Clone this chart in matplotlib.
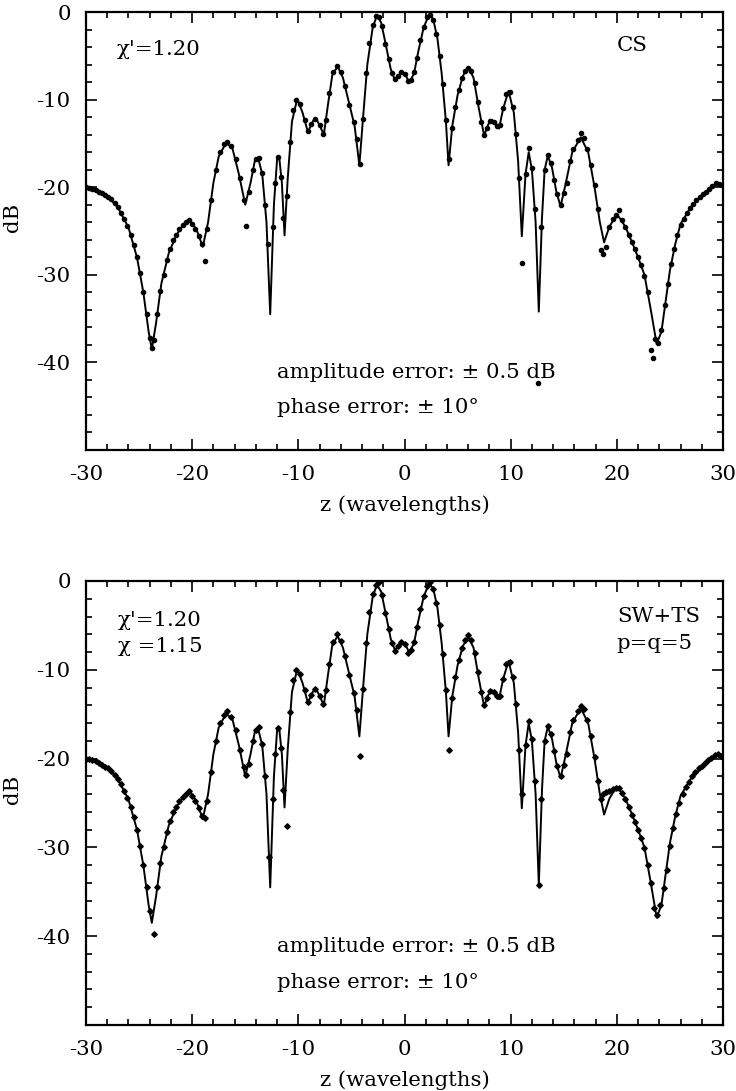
import matplotlib
matplotlib.use("Agg")
import matplotlib.pyplot as plt
from matplotlib.ticker import MultipleLocator

plt.rcParams['font.family'] = ['DejaVu Serif']
plt.rcParams['mathtext.fontset'] = 'dejavuserif'
plt.rcParams['axes.unicode_minus'] = False

# ---- exact pattern (solid line), shared by both panels ----
line_z = [-30.0, -29.0, -28.0, -27.0, -26.0, -25.2, -24.6, -24.1, -23.8, -23.4,
          -22.9, -22.2, -21.5, -20.8, -20.2, -19.6, -19.0, -18.5, -18.0, -17.5,
          -16.8, -16.2, -15.6, -15.0, -14.5, -14.1, -13.8, -13.4, -13.0, -12.65,
          -12.3, -12.0, -11.8, -11.55, -11.3, -11.0, -10.6, -10.1, -9.6, -9.1,
          -8.6, -8.3, -7.9, -7.6, -7.2, -6.8, -6.3, -5.8, -5.2, -4.7,
          -4.25, -3.9, -3.5, -3.0, -2.6, -2.2, -1.8, -1.3, -0.9, -0.5,
          -0.2, 0.15, 0.45, 0.9, 1.3, 1.8, 2.3, 2.7, 3.1, 3.5,
          3.9, 4.15, 4.5, 5.0, 5.5, 6.0, 6.5, 7.0, 7.5, 7.9,
          8.25, 8.6, 8.9, 9.3, 9.8, 10.3, 10.7, 11.05, 11.4, 11.7,
          12.0, 12.35, 12.65, 12.95, 13.2, 13.5, 13.9, 14.3, 14.7, 15.2,
          15.8, 16.6, 17.3, 17.9, 18.4, 18.8, 19.3, 19.8, 20.2, 20.8,
          21.4, 22.0, 22.6, 23.2, 23.75, 24.2, 24.6, 25.0, 25.5, 26.0,
          27.0, 28.0, 29.0, 29.5, 30.0]
line_db = [-20.0, -20.3, -21.0, -22.3, -24.6, -28.0, -32.0, -36.5, -38.5, -35.5,
           -31.0, -27.5, -25.5, -24.2, -23.8, -24.8, -26.8, -24.0, -19.5, -16.5,
           -14.9, -15.6, -18.5, -22.0, -19.5, -17.0, -16.6, -18.5, -24.0, -34.5,
           -22.0, -16.8, -16.6, -19.5, -25.5, -19.0, -12.5, -9.9, -11.5, -13.7,
           -12.4, -12.2, -13.2, -14.0, -10.5, -7.2, -6.2, -7.5, -10.5, -13.0,
           -17.5, -12.0, -6.0, -1.8, -0.4, -1.2, -3.5, -6.5, -7.8, -7.2,
           -6.8, -7.3, -8.1, -7.0, -4.5, -1.8, -0.3, -0.8, -3.0, -7.0,
           -12.5, -17.5, -13.0, -9.5, -7.3, -6.3, -7.5, -11.0, -14.1, -12.8,
           -12.3, -12.9, -13.3, -11.0, -9.0, -11.5, -17.0, -25.6, -18.5, -16.0,
           -18.0, -24.0, -34.2, -23.5, -18.0, -16.4, -17.8, -20.5, -22.2, -19.5,
           -16.0, -14.3, -16.0, -20.0, -24.0, -26.3, -24.5, -23.5, -23.4, -24.5,
           -26.2, -28.0, -30.0, -34.0, -37.9, -36.5, -33.0, -29.5, -26.5, -24.2,
           -22.2, -21.0, -20.0, -19.6, -19.8]

# ---- CS reconstruction (top panel dots) ----
cs_z = [-30.0, -29.7, -29.4, -29.1, -28.8, -28.5, -28.2, -27.9, -27.6, -27.3,
        -27.0, -26.7, -26.4, -26.1, -25.8, -25.5, -25.2, -24.9, -24.6, -24.3,
        -24.0, -23.8, -23.6, -23.3, -23.0, -22.7, -22.4, -22.1, -21.8, -21.5,
        -21.2, -20.9, -20.6, -20.3, -20.0, -19.7, -19.4, -19.1, -18.8, -18.6,
        -18.2, -17.8, -17.4, -17.0, -16.7, -16.3, -15.9, -15.5, -15.1, -14.9,
        -14.6, -14.3, -14.0, -13.7, -13.4, -13.1, -12.9, -12.4, -12.2, -11.9,
        -11.6, -11.4, -11.1, -10.8, -10.5, -10.2, -9.8, -9.4, -9.1, -8.8,
        -8.4, -8.0, -7.7, -7.4, -7.1, -6.7, -6.4, -6.0, -5.6, -5.2,
        -4.8, -4.5, -4.2, -3.9, -3.6, -3.3, -3.0, -2.7, -2.4, -2.1,
        -1.8, -1.5, -1.2, -0.9, -0.6, -0.3, 0.0, 0.3, 0.6, 0.9,
        1.2, 1.5, 1.8, 2.1, 2.4, 2.7, 3.0, 3.3, 3.6, 3.9,
        4.2, 4.5, 4.8, 5.1, 5.4, 5.7, 6.0, 6.3, 6.6, 6.9,
        7.2, 7.5, 7.8, 8.1, 8.4, 8.7, 9.0, 9.3, 9.6, 9.9,
        10.2, 10.5, 10.8, 11.1, 11.4, 11.7, 12.0, 12.3, 12.6, 12.9,
        13.2, 13.5, 13.8, 14.1, 14.4, 14.7, 15.0, 15.3, 15.6, 15.9,
        16.3, 16.6, 16.9, 17.2, 17.6, 17.9, 18.2, 18.5, 18.7, 19.0,
        19.3, 19.6, 19.9, 20.2, 20.5, 20.8, 21.1, 21.4, 21.7, 22.0,
        22.3, 22.6, 22.9, 23.2, 23.4, 23.6, 23.9, 24.2, 24.5, 24.8,
        25.1, 25.4, 25.7, 26.0, 26.3, 26.6, 26.9, 27.2, 27.5, 27.8,
        28.1, 28.4, 28.7, 29.0, 29.3, 29.6, 29.9]
cs_db = [-20.0, -20.1, -20.2, -20.3, -20.5, -20.7, -20.9, -21.1, -21.4, -21.8,
         -22.3, -22.9, -23.6, -24.4, -25.4, -26.6, -28.0, -29.8, -32.0, -34.5,
         -37.2, -38.3, -37.4, -34.5, -31.8, -30.0, -28.3, -27.0, -26.0, -25.4,
         -24.8, -24.3, -24.0, -23.7, -24.2, -24.8, -25.6, -26.5, -28.4, -24.8,
         -21.5, -18.0, -16.0, -15.1, -14.8, -15.3, -16.8, -19.0, -21.5, -24.4,
         -20.6, -18.0, -16.8, -16.7, -18.4, -22.0, -26.5, -24.5, -19.5, -16.6,
         -18.8, -23.5, -21.0, -14.8, -11.2, -10.0, -10.5, -12.3, -13.6, -12.8,
         -12.2, -12.9, -13.9, -12.3, -9.3, -6.9, -6.2, -6.8, -8.5, -10.6,
         -12.6, -14.5, -17.3, -12.2, -7.0, -3.5, -1.5, -0.5, -0.6, -1.6,
         -3.6, -5.4, -7.0, -7.7, -7.3, -6.9, -7.1, -7.9, -7.8, -6.9,
         -5.2, -3.2, -1.7, -0.6, -0.3, -0.9, -2.5, -5.0, -8.2, -12.3,
         -16.8, -13.2, -10.8, -8.9, -7.5, -6.7, -6.4, -6.7, -8.1, -10.3,
         -12.5, -14.0, -13.2, -12.4, -12.5, -13.0, -12.9, -11.0, -9.4, -9.1,
         -10.8, -13.9, -19.0, -28.6, -18.5, -15.5, -17.8, -22.5, -42.4, -24.5,
         -18.0, -16.3, -17.2, -19.2, -20.8, -22.0, -20.7, -19.5, -17.0, -15.6,
         -14.6, -13.8, -14.4, -15.6, -17.5, -19.8, -22.5, -27.2, -27.6, -26.8,
         -24.6, -23.6, -23.2, -22.6, -23.7, -24.6, -25.4, -26.3, -27.1, -28.0,
         -28.9, -30.1, -32.0, -38.6, -39.5, -37.3, -37.8, -36.3, -33.5, -31.0,
         -28.8, -27.0, -25.5, -24.3, -23.6, -23.0, -22.4, -21.9, -21.5, -21.1,
         -20.8, -20.5, -20.2, -19.9, -19.5, -19.6, -19.8]

# ---- SW+TS reconstruction (bottom panel markers) ----
sw_z = [-30.0, -29.7, -29.4, -29.1, -28.8, -28.5, -28.2, -27.9, -27.6, -27.3,
        -27.0, -26.7, -26.4, -26.1, -25.8, -25.5, -25.2, -24.9, -24.6, -24.3,
        -24.0, -23.6, -23.3, -23.0, -22.7, -22.4, -22.1, -21.8, -21.5,
        -21.2, -20.9, -20.6, -20.3, -20.0, -19.7, -19.4, -19.1, -18.8, -18.6,
        -18.2, -17.8, -17.4, -17.0, -16.7, -16.3, -15.9, -15.5, -15.1, -14.9,
        -14.6, -14.3, -14.0, -13.7, -13.4, -13.1, -12.8, -12.4, -12.2, -11.9,
        -11.6, -11.4, -11.1, -10.8, -10.5, -10.2, -9.8, -9.4, -9.1, -8.8,
        -8.4, -8.0, -7.7, -7.4, -7.1, -6.7, -6.4, -6.0, -5.6, -5.2,
        -4.8, -4.5, -4.2, -3.9, -3.6, -3.3, -3.0, -2.7, -2.4, -2.1,
        -1.8, -1.5, -1.2, -0.9, -0.6, -0.3, 0.0, 0.3, 0.6, 0.9,
        1.2, 1.5, 1.8, 2.1, 2.4, 2.7, 3.0, 3.3, 3.6, 3.9,
        4.2, 4.5, 4.8, 5.1, 5.4, 5.7, 6.0, 6.3, 6.6, 6.9,
        7.2, 7.5, 7.8, 8.1, 8.4, 8.7, 9.0, 9.3, 9.6, 9.9,
        10.2, 10.5, 10.8, 11.1, 11.4, 11.7, 12.0, 12.3, 12.7, 12.9,
        13.2, 13.5, 13.8, 14.1, 14.4, 14.7, 15.0, 15.3, 15.6, 15.9,
        16.3, 16.6, 16.9, 17.2, 17.6, 17.9, 18.2, 18.5, 18.7, 19.0,
        19.3, 19.6, 19.9, 20.2, 20.5, 20.8, 21.1, 21.4, 21.7, 22.0,
        22.3, 22.6, 22.9, 23.2, 23.5, 23.8, 24.1, 24.4, 24.7, 25.0,
        25.3, 25.6, 25.9, 26.2, 26.5, 26.8, 27.1, 27.4, 27.7, 28.0,
        28.3, 28.6, 28.9, 29.2, 29.5, 29.8]
sw_db = [-20.0, -20.1, -20.2, -20.3, -20.5, -20.7, -20.9, -21.1, -21.4, -21.8,
         -22.3, -22.9, -23.6, -24.4, -25.4, -26.6, -28.0, -29.8, -32.0, -34.5,
         -37.2, -39.7, -34.5, -31.8, -30.0, -28.3, -27.0, -26.0, -25.4,
         -24.8, -24.3, -24.0, -23.7, -24.2, -24.8, -25.6, -26.5, -26.7, -24.8,
         -21.5, -18.0, -16.0, -15.1, -14.6, -15.3, -16.8, -19.0, -21.0, -21.8,
         -20.6, -18.0, -16.8, -16.4, -18.4, -22.0, -31.1, -24.5, -19.5, -16.6,
         -18.8, -23.5, -27.6, -14.8, -11.2, -10.0, -10.5, -12.3, -13.6, -12.8,
         -12.2, -12.9, -13.9, -12.3, -9.3, -6.9, -6.0, -6.8, -8.5, -10.6,
         -12.6, -14.5, -19.7, -12.2, -7.0, -3.5, -1.5, -0.5, -0.1, -1.6,
         -3.6, -5.4, -7.0, -7.9, -7.3, -6.9, -7.1, -8.1, -7.8, -6.9,
         -5.2, -3.2, -1.7, -0.6, -0.1, -0.9, -2.5, -5.0, -8.2, -12.3,
         -19.0, -13.2, -10.8, -8.9, -7.5, -6.7, -6.1, -6.7, -8.1, -10.3,
         -12.5, -14.0, -13.2, -12.4, -12.5, -13.0, -12.9, -11.0, -9.4, -9.1,
         -10.8, -13.9, -19.0, -24.0, -18.5, -15.8, -17.8, -22.5, -34.2, -24.5,
         -18.0, -16.3, -17.2, -19.2, -20.8, -22.0, -20.7, -19.5, -17.0, -15.6,
         -14.6, -14.1, -14.4, -15.6, -17.5, -19.8, -22.5, -24.5, -24.0, -23.8,
         -23.6, -23.4, -23.3, -23.3, -23.9, -24.6, -25.4, -26.3, -27.1, -28.0,
         -28.9, -30.1, -32.0, -34.0, -36.8, -37.6, -36.5, -34.6, -32.5, -29.8,
         -27.8, -26.2, -25.0, -24.0, -23.2, -22.6, -22.0, -21.5, -21.1, -20.8,
         -20.5, -20.2, -19.9, -19.6, -19.5, -19.7]

W, H = 736, 1091
fig = plt.figure(figsize=(W / 100, H / 100), dpi=100)

FS = 15.3
L, R = 86, 723
panels = [
    dict(top=12, bot=450, z=cs_z, db=cs_db, marker='o', ms=3.0),
    dict(top=581, bot=1025, z=sw_z, db=sw_db, marker='D', ms=2.8),
]
axes = []
for p in panels:
    ax = fig.add_axes([L / W, 1 - p['bot'] / H, (R - L) / W, (p['bot'] - p['top']) / H])
    ax.plot(line_z, line_db, color='black', lw=1.4, zorder=2)
    ax.plot(p['z'], p['db'], linestyle='none', marker=p['marker'], ms=p['ms'],
            color='black', zorder=3)
    ax.set_xlim(-30, 30)
    ax.set_ylim(-50, 0)
    ax.xaxis.set_major_locator(MultipleLocator(10))
    ax.xaxis.set_minor_locator(MultipleLocator(2))
    ax.yaxis.set_major_locator(MultipleLocator(10))
    ax.yaxis.set_minor_locator(MultipleLocator(2))
    ax.tick_params(which='both', direction='in', top=True, right=True,
                   labelsize=FS, width=1.2)
    ax.tick_params(which='major', length=8)
    ax.tick_params(axis='x', which='major', pad=11)
    ax.tick_params(axis='y', which='major', pad=11)
    ax.tick_params(which='minor', length=4)
    ax.set_yticks([0, -10, -20, -30, -40])
    for s in ax.spines.values():
        s.set_linewidth(1.6)
    ax.set_xlabel('z (wavelengths)', fontsize=FS, labelpad=8)
    ax.set_ylabel('dB', fontsize=FS)
    ax.yaxis.set_label_coords(-0.1, 0.53)
    ax.text(-12.0, -41.2, 'amplitude error: ± 0.5 dB', fontsize=FS, va='center', ha='left')
    ax.text(-12.0, -45.2, 'phase error: ± 10°', fontsize=FS, va='center', ha='left')
    axes.append(ax)

ax1, ax2 = axes
ax1.text(-27.1, -4.3, "χ'=1.20", fontsize=FS, va='center', ha='left')
ax1.text(20.0, -3.8, 'CS', fontsize=FS, va='center', ha='left')

ax2.text(-27.0, -4.5, "χ'=1.20", fontsize=FS, va='center', ha='left')
ax2.text(-27.0, -7.4, "χ =1.15", fontsize=FS, va='center', ha='left')
ax2.text(20.0, -4.0, 'SW+TS', fontsize=FS, va='center', ha='left')
ax2.text(20.0, -7.0, 'p=q=5', fontsize=FS, va='center', ha='left')

fig.savefig('out.png', dpi=100)
